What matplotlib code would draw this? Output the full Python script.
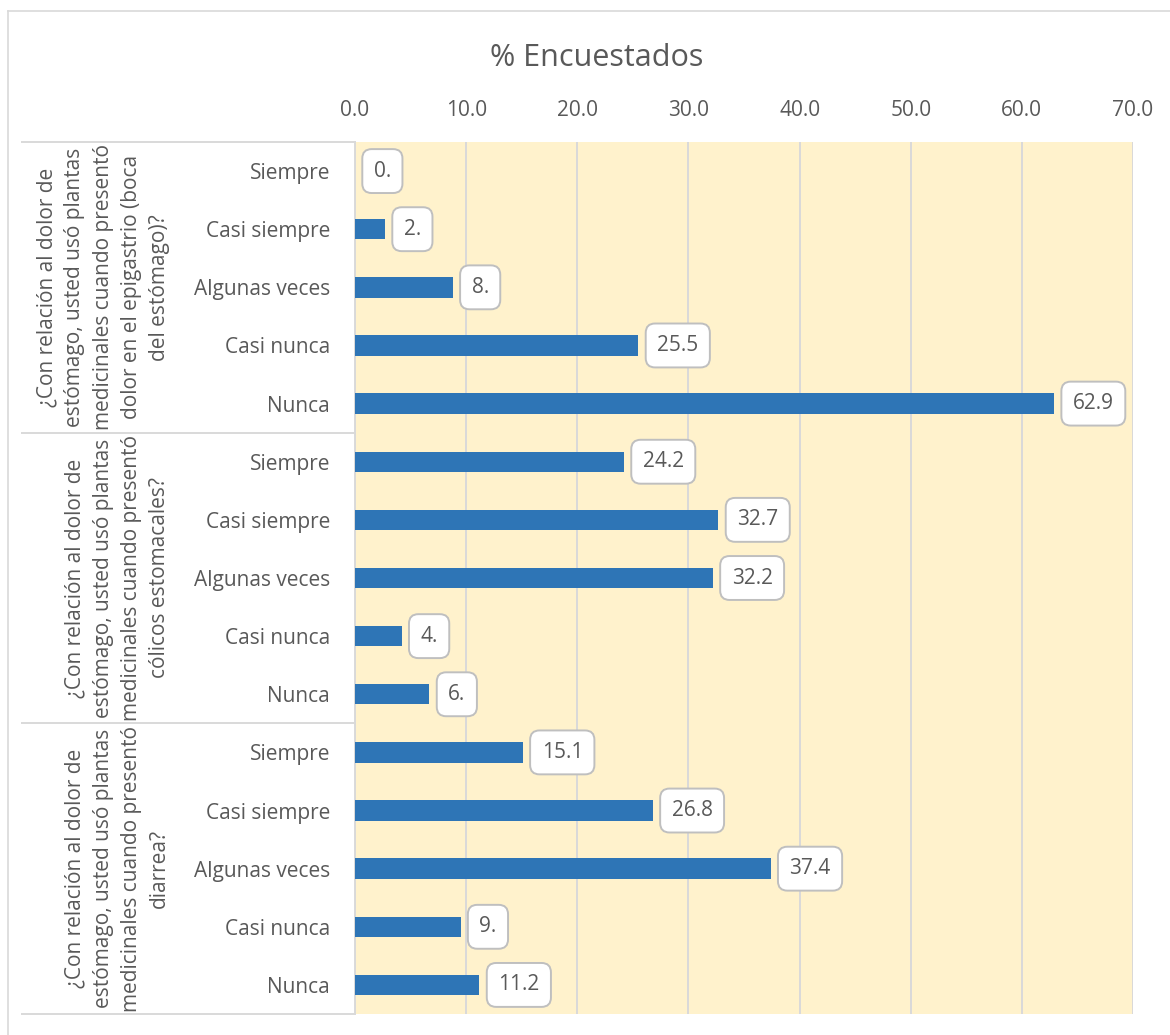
import matplotlib.pyplot as plt
import matplotlib.transforms as mtransforms
import numpy as np

plt.rcParams['font.family'] = ['Open Sans', 'DejaVu Sans']

# data
categorias = ['Siempre', 'Casi siempre', 'Algunas veces', 'Casi nunca', 'Nunca']
preguntas = [
    '¿Con relación al dolor de\nestómago, usted usó plantas\nmedicinales cuando presentó\ndolor en el epigastrio (boca\ndel estómago)?',
    '¿Con relación al dolor de\nestómago, usted usó plantas\nmedicinales cuando presentó\ncólicos estomacales?',
    '¿Con relación al dolor de\nestómago, usted usó plantas\nmedicinales cuando presentó\ndiarrea?',
]
epigastrio = [0.0, 2.7, 8.8, 25.5, 62.9]
colicos = [24.2, 32.7, 32.2, 4.2, 6.7]
diarrea = [15.1, 26.8, 37.4, 9.5, 11.2]
# labels as they appear in the chart (some are cut off)
etiq_epigastrio = ['0.', '2.', '8.', '25.5', '62.9']
etiq_colicos = ['24.2', '32.7', '32.2', '4.', '6.']
etiq_diarrea = ['15.1', '26.8', '37.4', '9.', '11.2']

valores = epigastrio + colicos + diarrea
etiquetas = etiq_epigastrio + etiq_colicos + etiq_diarrea
nombres = categorias * 3

gris = '#595959'
linea = '#D9D9D9'
fs = 15

fig = plt.figure(figsize=(11.7, 10.35), dpi=100)
ax = fig.add_axes([355/1170, 21/1035, 778/1170, 872/1035])
ax.set_facecolor('#FFF2CC')

y = np.arange(len(valores))
ax.barh(y, valores, height=0.35, color='#2E75B6', zorder=3)

for yi, v, t in zip(y, valores, etiquetas):
    ax.annotate(t, (v, yi), xytext=(13.5, 0), textcoords='offset points',
                ha='left', va='center', fontsize=fs, color=gris, zorder=5,
                bbox=dict(boxstyle='round,pad=0.55,rounding_size=0.45',
                          fc='white', ec='#BFBFBF', lw=1.4))

ax.set_xlim(0, 70)
ax.set_ylim(len(valores) - 0.5, -0.5)
ax.set_xticks(np.arange(0, 71, 10))
ax.set_xticklabels(['%.1f' % v for v in np.arange(0, 71, 10)])
ax.xaxis.tick_top()
ax.tick_params(axis='x', length=0, pad=15, labelsize=fs, labelcolor=gris)
ax.set_yticks(y)
ax.set_yticklabels(nombres)
ax.tick_params(axis='y', length=0, pad=18, labelsize=fs, labelcolor=gris)
ax.grid(axis='x', color=linea, lw=1.4, zorder=1)

for s in ['top', 'right', 'bottom']:
    ax.spines[s].set_visible(False)
ax.spines['left'].set_color(linea)
ax.spines['left'].set_linewidth(1.4)

# group separators and rotated group labels
trans = mtransforms.blended_transform_factory(ax.transAxes, ax.transData)
for b in [-0.5, 4.5, 9.5, 14.5]:
    ax.plot([(22 - 355) / 778, 0], [b, b], color=linea, lw=1.4,
            transform=trans, clip_on=False)
for i, p in enumerate(preguntas):
    ax.text((170 - 355) / 778, 5 * i + 2, p, transform=trans, rotation=90,
            ha='right', va='center', multialignment='center',
            fontsize=fs, color=gris, linespacing=1.45)

fig.text(597 / 1170, 1 - 58 / 1035, '% Encuestados', ha='center', va='center',
         fontsize=22, color=gris)

# outer chart border
fig.add_artist(plt.Line2D([8/1170, 8/1170], [0, 1 - 11/1035], color=linea, lw=1.2))
fig.add_artist(plt.Line2D([8/1170, 1], [1 - 11/1035, 1 - 11/1035], color=linea, lw=1.2))

fig.savefig('out.png', dpi=100)
